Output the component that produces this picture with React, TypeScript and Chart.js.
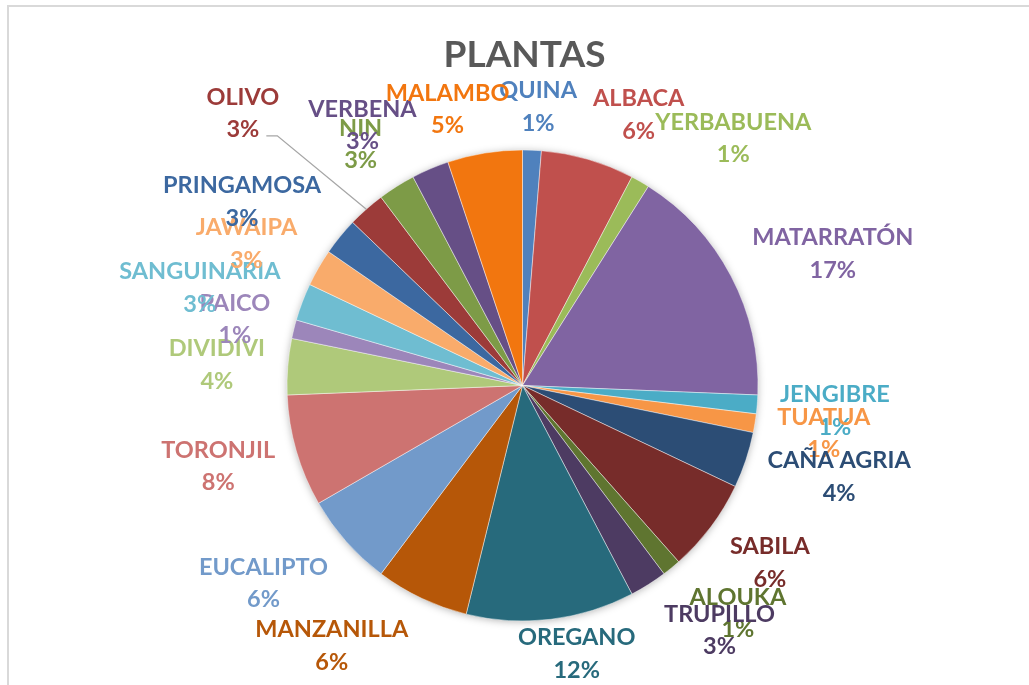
import { useEffect, useRef } from "react";
import { Chart, registerables } from "chart.js";

Chart.register(...registerables);

const chartTitle = "PLANTAS";

const categories = [
  "QUINA", "ALBACA", "YERBABUENA", "MATARRATÓN", "JENGIBRE", "TUATUA",
  "CAÑA AGRIA", "SABILA", "ALOUKA", "TRUPILLO", "OREGANO", "MANZANILLA",
  "EUCALIPTO", "TORONJIL", "DIVIDIVI", "PAICO", "SANGUINARIA", "JAWAIPA",
  "PRINGAMOSA", "OLIVO", "NIN", "VERBENA", "MALAMBO",
];

const values = [1, 5, 1, 13, 1, 1, 3, 5, 1, 2, 9, 5, 5, 6, 3, 1, 2, 2, 2, 2, 2, 2, 4];

const sliceColors = [
  "#4F81BD", "#C0504D", "#9BBB59", "#8064A2", "#4BACC6", "#F79646",
  "#2C4D75", "#772C2A", "#5F7530", "#4D3B62", "#276A7C", "#B65708",
  "#729ACA", "#CD7371", "#AFC97A", "#9C86BA", "#6FBDD1", "#F9AB6B",
  "#3C68A0", "#9C3B39", "#7D9B47", "#664F86", "#F2760F",
];

// label placement tweaks (pixels) relative to the automatic outside position
const labelNudgeX = [4, 34, 47, 18, 9, 9, 12, 16, 27, 34, 17, -51, -24, -10, -9, -11, -14, -16, -26, -90, -17, -41, -25];
const labelNudgeY = [1, -2, -5, -2, 2, 2, 2, 8, 10, 7, -11, 6, 11, 2, 1, 0, 1, -2, -7, -63, -5, -3, 0];
const leaderDistance = 80;

const LABEL_FONT = "bold 23.5px Lato";
const TITLE_FONT = "bold 37px Lato";

const decorPlugin = {
  id: "decor",
  beforeDatasetsDraw(chart: any) {
    const ctx = chart.ctx;
    const meta = chart.getDatasetMeta(0);
    const a = meta.data[0];
    if (!a) return;
    const { x, y, outerRadius } = a.getProps(["x", "y", "outerRadius"], true);
    ctx.save();
    ctx.beginPath();
    ctx.arc(x, y, outerRadius - 1, 0, Math.PI * 2);
    ctx.fillStyle = "#ffffff";
    ctx.shadowColor = "rgba(0,0,0,0.35)";
    ctx.shadowBlur = 9;
    ctx.shadowOffsetX = 0;
    ctx.shadowOffsetY = 1;
    ctx.fill();
    ctx.restore();
  },
  afterDatasetsDraw(chart: any) {
    const ctx = chart.ctx;
    const meta = chart.getDatasetMeta(0);
    const total = values.reduce((s, v) => s + v, 0);

    // title
    ctx.save();
    ctx.font = TITLE_FONT;
    ctx.fillStyle = "#595959";
    ctx.textAlign = "center";
    ctx.textBaseline = "alphabetic";
    ctx.fillText(chartTitle, 524.5, 54 + 0.7165 * 37 / 2);
    ctx.restore();

    ctx.save();
    ctx.font = LABEL_FONT;
    ctx.textAlign = "center";
    ctx.textBaseline = "alphabetic";
    const fs = 23.5;
    const cap = 0.7165 * fs;
    const halfGap = 16.25;
    meta.data.forEach((el: any, i: number) => {
      const { x, y, startAngle, endAngle, outerRadius } = el.getProps(
        ["x", "y", "startAngle", "endAngle", "outerRadius"], true);
      const mid = (startAngle + endAngle) / 2;
      const ux = Math.cos(mid);
      const uy = Math.sin(mid);
      const name = categories[i];
      const pct = Math.round((values[i] / total) * 100) + "%";
      const wName = ctx.measureText(name).width;
      const wPct = ctx.measureText(pct).width;
      const w = Math.max(wName, wPct);
      const nx = labelNudgeX[i];
      const ny = labelNudgeY[i];
      const cx = x + ux * (outerRadius + 14 + w / 2) + nx;
      const cy = y + uy * (outerRadius + 14 + 31) + ny;
      const col = sliceColors[i];

      if (Math.hypot(nx, ny) > leaderDistance) {
        const sx = cx + wPct / 2 + 7;
        const sy = cy + halfGap + 7;
        ctx.save();
        ctx.strokeStyle = "#A6A6A6";
        ctx.lineWidth = 1.3;
        ctx.beginPath();
        ctx.moveTo(sx, sy);
        ctx.lineTo(sx + 11, sy);
        ctx.lineTo(x + ux * outerRadius, y + uy * outerRadius);
        ctx.stroke();
        ctx.restore();
      }

      ctx.fillStyle = col;
      ctx.fillText(name, cx, cy - halfGap + cap / 2);
      ctx.fillText(pct, cx, cy + halfGap + cap / 2);
    });
    ctx.restore();
  },
};

export default function App() {
  const canvasRef = useRef<HTMLCanvasElement | null>(null);

  useEffect(() => {
    const canvas = canvasRef.current;
    if (!canvas) return;
    const chart = new Chart(canvas, {
      type: "pie",
      data: {
        labels: categories,
        datasets: [
          {
            data: values,
            backgroundColor: sliceColors,
            borderColor: "rgba(255,255,255,0.55)",
            borderWidth: 0.8,
          },
        ],
      },
      options: {
        responsive: false,
        animation: false,
        devicePixelRatio: 1,
        radius: 235.5,
        layout: { padding: { left: 16, right: 0, top: 86, bottom: 0 } },
        plugins: {
          legend: { display: false },
          tooltip: { enabled: false },
          title: { display: false },
        },
      } as any,
      plugins: [decorPlugin],
    });
    return () => chart.destroy();
  }, []);

  return (
    <div>
      <div
        style={{
          position: "fixed",
          left: 7,
          top: 5,
          width: 1040,
          height: 700,
          border: "2px solid #D9D9D9",
          boxSizing: "border-box",
          background: "#ffffff",
        }}
      />
      <canvas
        ref={canvasRef}
        width={1029}
        height={685}
        style={{ position: "fixed", left: 0, top: 0, width: 1029, height: 685 }}
      />
    </div>
  );
}
